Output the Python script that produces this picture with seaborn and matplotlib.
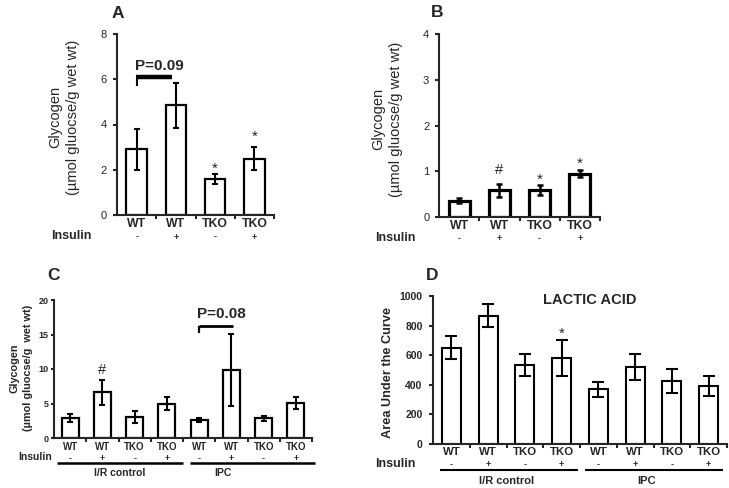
import matplotlib
matplotlib.use("Agg")
import matplotlib.pyplot as plt
import seaborn as sns
import pandas as pd

sns.set_theme(style="ticks")
plt.rcParams['font.family'] = ['Liberation Sans', 'DejaVu Sans']

# ---------------- data ----------------
ab_genotype = ['WT', 'WT', 'TKO', 'TKO']
ab_insulin = ['-', '+', '-', '+']

a_values = [2.90, 4.85, 1.60, 2.48]
a_errors = [0.90, 1.00, 0.22, 0.51]

b_values = [0.36, 0.58, 0.59, 0.95]
b_errors = [0.05, 0.15, 0.12, 0.08]

cd_genotype = ['WT', 'WT', 'TKO', 'TKO', 'WT', 'WT', 'TKO', 'TKO']
cd_insulin = ['-', '+', '-', '+', '-', '+', '-', '+']
cd_groups = ['I/R control', 'IPC']

c_values = [2.85, 6.6, 3.0, 4.95, 2.6, 9.9, 2.85, 5.1]
c_errors = [0.6, 1.75, 0.85, 0.95, 0.35, 5.2, 0.4, 0.85]

d_values = [652, 868, 533, 582, 369, 521, 425, 392]
d_errors = [80, 78, 75, 120, 52, 87, 82, 67]

a_yticks = [0, 2, 4, 6, 8]
b_yticks = [0, 1, 2, 3, 4]
c_yticks = [0, 5, 10, 15, 20]
d_yticks = [0, 200, 400, 600, 800, 1000]

# ---------------- layout helpers ----------------
W, H = 729, 488
fig = plt.figure(figsize=(W / 100, H / 100), dpi=100)
fig.patch.set_facecolor('white')


def fx(px):
    return px / W


def fy(py):
    return 1 - py / H


def panel(l, t, r, b, genotype, values, errors, yticks, lw, bar_lw, cap,
          ytick_fs, ytick_w, ytick_pad, ytick_len, xlab_fs, xlab_pad):
    ax = fig.add_axes([fx(l), fy(b), fx(r - l), (b - t) / H])
    n = len(values)
    keys = [f"{g}{i}" for i, g in enumerate(genotype)]
    df = pd.DataFrame({'key': keys, 'value': values})
    sns.barplot(data=df, x='key', y='value', order=keys, color='white',
                saturation=1, edgecolor='black', linewidth=bar_lw,
                width=0.52, errorbar=None, ax=ax)
    ax.errorbar(range(n), values, yerr=errors, fmt='none', ecolor='black',
                elinewidth=lw, capsize=cap, capthick=lw, zorder=5)
    ax.set_xlim(-0.5, n - 0.5)
    ax.set_ylim(yticks[0], yticks[-1])
    ax.set_facecolor('none')
    sns.despine(ax=ax)
    for s in ('left', 'bottom'):
        ax.spines[s].set_linewidth(1.5)
    ax.set_xlabel('')
    ax.set_ylabel('')
    ax.set_yticks(yticks)
    ax.set_yticklabels([str(v) for v in yticks], fontsize=ytick_fs,
                       fontweight=ytick_w)
    ax.tick_params(axis='y', length=ytick_len, width=1.5, pad=ytick_pad,
                   direction='out')
    ax.set_xticks(range(n))
    ax.set_xticklabels(genotype, fontsize=xlab_fs, fontweight='bold')
    ax.tick_params(axis='x', which='major', length=0, pad=xlab_pad)
    ax.set_xticks([i + 0.5 for i in range(n)], minor=True)
    ax.tick_params(axis='x', which='minor', length=3, width=1.5,
                   direction='out')
    ax.grid(False)
    return ax


def yfrac(t, b, py):
    return (b - py) / (b - t)


def insulin_row(ax, t, b, py, signs, fs, label_right, label_fs):
    for i, s in enumerate(signs):
        ax.text(i, yfrac(t, b, py), s, transform=ax.get_xaxis_transform(),
                ha='center', va='center', fontsize=fs, fontweight='bold')
    fig.text(fx(label_right), fy(py - 1), 'Insulin', ha='right', va='center',
             fontsize=label_fs, fontweight='bold')


def mark(ax, i, y, s, fs, dy=0.0):
    ax.annotate(s, (i, y), xytext=(0, dy), textcoords='offset points',
                ha='center', va='center', fontsize=fs)


# ---------------- panel A ----------------
aL, aT, aR, aB = 117, 34, 274, 215
axA = panel(aL, aT, aR, aB, ab_genotype, a_values, a_errors, a_yticks,
            1.5, 1.6, 2.5, 8, 'normal', 4.5, 3, 8.8, 2.4)
insulin_row(axA, aT, aB, 237, ab_insulin, 6.5, 92, 9)
mark(axA, 2, 2.18, '*', 11, -2.5)
mark(axA, 3, 3.62, '*', 11, -2.5)
axA.plot([0, 0], [5.7, 6.08], color='black', lw=1.5, solid_capstyle='butt')
axA.plot([-0.02, 0.9], [6.08, 6.08], color='black', lw=3.2,
         solid_capstyle='butt')
axA.text(0.57, 6.6, 'P=0.09', ha='center', va='center', fontsize=11,
         fontweight='bold')
fig.text(fx(64), fy(117), 'Glycogen\n(µmol gluocse/g wet wt)', rotation=90,
         ha='center', va='center', fontsize=10.5, linespacing=1.3)
fig.text(fx(117.5), fy(13), 'A', ha='center', va='center', fontsize=12.5,
         fontweight='bold')

# ---------------- panel B ----------------
bL, bT, bR, bB = 439, 34, 600, 217
axB = panel(bL, bT, bR, bB, ab_genotype, b_values, b_errors, b_yticks,
            1.8, 2.3, 2.5, 8, 'normal', 4, 3, 8.8, 2.2)
insulin_row(axB, bT, bB, 238.5, ab_insulin, 6.5, 415, 9)
mark(axB, 1, 1.03, '#', 10.5)
mark(axB, 2, 0.88, '*', 11, -2.5)
mark(axB, 3, 1.25, '*', 11, -2.5)
fig.text(fx(387), fy(119), 'Glycogen\n(µmol gluocse/g wet wt)', rotation=90,
         ha='center', va='center', fontsize=10.5, linespacing=1.3)
fig.text(fx(437), fy(12.5), 'B', ha='center', va='center', fontsize=12.5,
         fontweight='bold')

# ---------------- panel C ----------------
cL, cT, cR, cB = 54, 300, 312, 438
axC = panel(cL, cT, cR, cB, cd_genotype, c_values, c_errors, c_yticks,
            1.5, 1.6, 2.5, 6.5, 'bold', 1.2, 2.5, 7, 2.8)
insulin_row(axC, cT, cB, 458.5, cd_insulin, 6.2, 52, 7.5)
mark(axC, 1, 9.9, '#', 10.5)
axC.plot([4, 4], [15.2, 16.2], color='black', lw=1.6, solid_capstyle='butt')
axC.plot([4, 5.05], [16.2, 16.2], color='black', lw=2, solid_capstyle='butt')
axC.text(4.7, 17.9, 'P=0.08', ha='center', va='center', fontsize=11,
         fontweight='bold')
tr = axC.get_xaxis_transform()
yl = yfrac(cT, cB, 462.5)
axC.plot([-0.4, 3.5], [yl, yl], transform=tr, color='black', lw=1.8,
         clip_on=False, solid_capstyle='butt')
axC.plot([3.72, 7.6], [yl, yl], transform=tr, color='black', lw=1.8,
         clip_on=False, solid_capstyle='butt')
yg = yfrac(cT, cB, 472.5)
axC.text(1.55, yg, cd_groups[0], transform=tr, ha='center', va='center',
         fontsize=7.5, fontweight='bold')
axC.text(4.74, yg, cd_groups[1], transform=tr, ha='center', va='center',
         fontsize=7.5, fontweight='bold')
fig.text(fx(21), fy(368), 'Glycogen\n(µmol gluocse/g  wet wt)', rotation=90,
         ha='center', va='center', fontsize=7.8, fontweight='bold',
         linespacing=1.4)
fig.text(fx(54), fy(275.5), 'C', ha='center', va='center', fontsize=12.5,
         fontweight='bold')

# ---------------- panel D ----------------
dL, dT, dR, dB = 433, 296, 727, 444
axD = panel(dL, dT, dR, dB, cd_genotype, d_values, d_errors, d_yticks,
            1.5, 1.5, 4, 7.5, 'bold', 4.5, 3, 8.2, 2.0)
insulin_row(axD, dT, dB, 465, cd_insulin, 6.5, 415, 9)
mark(axD, 3, 769, '*', 11, -2.5)
axD.text(3.77, 973, 'LACTIC ACID', ha='center', va='center', fontsize=10.5,
         fontweight='bold')
tr = axD.get_xaxis_transform()
yl = yfrac(dT, dB, 470)
axD.plot([-0.31, 3.45], [yl, yl], transform=tr, color='black', lw=1.5,
         clip_on=False, solid_capstyle='butt')
axD.plot([3.64, 7.39], [yl, yl], transform=tr, color='black', lw=1.5,
         clip_on=False, solid_capstyle='butt')
yg = yfrac(dT, dB, 480.5)
axD.text(1.51, yg, cd_groups[0], transform=tr, ha='center', va='center',
         fontsize=8, fontweight='bold')
axD.text(5.3, yg, cd_groups[1], transform=tr, ha='center', va='center',
         fontsize=8, fontweight='bold')
fig.text(fx(388), fy(372), 'Area Under the Curve', rotation=90,
         ha='center', va='center', fontsize=9.2, fontweight='bold')
fig.text(fx(432), fy(275.5), 'D', ha='center', va='center', fontsize=12.5,
         fontweight='bold')

fig.savefig('out.png', dpi=100, facecolor='white')
